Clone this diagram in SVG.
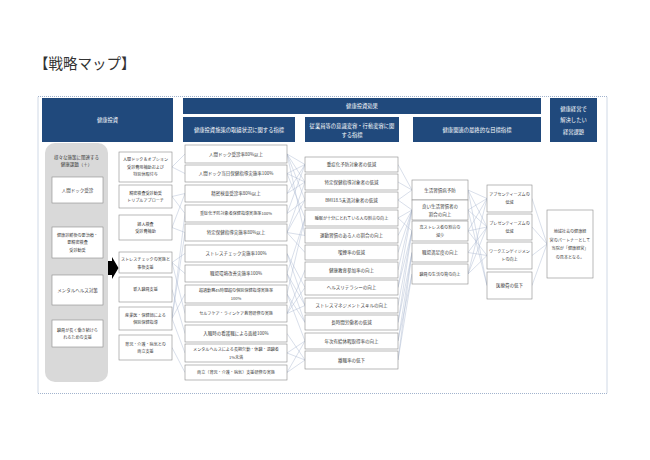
<svg xmlns="http://www.w3.org/2000/svg" width="650" height="460" viewBox="0 0 650 460">
<style>
text{font-family:"Noto Sans CJK JP","Noto Sans",sans-serif;}
.hd{fill:#20497c;}
.ht{fill:#ffffff;font-size:5.3px;text-anchor:middle;}
.bx{fill:#ffffff;stroke:#8a8a8a;stroke-width:0.6;}
.bt{fill:#404040;font-size:4.5px;text-anchor:middle;}
.sm{font-size:4.1px;}
.cn line{stroke:#a9b8cf;stroke-width:0.45;}
</style>
<rect width="650" height="460" fill="#ffffff"/>
<text x="34" y="69" font-size="14.5" fill="#333333">【戦略マップ】</text>
<rect x="38" y="96.5" width="569" height="297" fill="none" stroke="#8aa0c0" stroke-width="0.8" stroke-dasharray="1,1"/>

<g id="headers">
<rect class="hd" x="42" y="98" width="131" height="44"/>
<text class="ht" x="107.5" y="122">健康投資</text>
<rect class="hd" x="183" y="98" width="358" height="16"/>
<text class="ht" x="362" y="108">健康投資効果</text>
<rect class="hd" x="183" y="117" width="112" height="25"/>
<text class="ht" x="239" y="131.5">健康投資施策の取組状況に関する指標</text>
<rect class="hd" x="305" y="117" width="94" height="25"/>
<text class="ht" x="352" y="127.5">従業員等の意識変容・行動変容に関</text>
<text class="ht" x="352" y="136.5">する指標</text>
<rect class="hd" x="413" y="117" width="128" height="25"/>
<text class="ht" x="477" y="131.5">健康関連の最終的な目標指標</text>
<rect class="hd" x="550" y="98" width="47" height="44"/>
<text class="ht" x="573.5" y="110.5">健康経営で</text>
<text class="ht" x="573.5" y="122">解決したい</text>
<text class="ht" x="573.5" y="133.5">経営課題</text>
</g>

<g id="health-issues">
<rect x="45" y="143" width="63" height="239" rx="10" fill="#d9d9d9"/>
<text class="bt" x="76.5" y="159">様々な施策に関連する</text>
<text class="bt" x="76.5" y="166">健康課題（＋）</text>
<rect class="bx" x="52" y="177" width="51" height="26"/>
<text class="bt" x="77.5" y="191.5">人間ドック受診</text>
<rect class="bx" x="52" y="227" width="51" height="31"/>
<text class="bt sm" x="77.5" y="236.5">健康診断後の要治療・</text>
<text class="bt sm" x="77.5" y="244">要精密検査</text>
<text class="bt sm" x="77.5" y="251.5">受診勧奨</text>
<rect class="bx" x="52" y="275" width="51" height="30"/>
<text class="bt" x="77.5" y="291.5">メンタルヘルス対策</text>
<rect class="bx" x="52" y="320" width="51" height="27"/>
<text class="bt sm" x="77.5" y="331.5">職員が長く働き続けら</text>
<text class="bt sm" x="77.5" y="339">れるための支援</text>
<polygon points="108,261 112,261 112,257 118.5,268 112,279 112,275 108,275" fill="#000000"/>
</g>

<g class="cn" id="connectors">
<line x1="172" y1="167" x2="185" y2="154"/>
<line x1="172" y1="167" x2="185" y2="173.5"/>
<line x1="172" y1="196.5" x2="185" y2="193.5"/>
<line x1="172" y1="196.5" x2="185" y2="213.5"/>
<line x1="172" y1="227.5" x2="185" y2="193.5"/>
<line x1="172" y1="227.5" x2="185" y2="232.5"/>
<line x1="172" y1="262.5" x2="185" y2="253.5"/>
<line x1="172" y1="262.5" x2="185" y2="273.5"/>
<line x1="172" y1="262.5" x2="185" y2="313.5"/>
<line x1="172" y1="289.5" x2="185" y2="333.5"/>
<line x1="172" y1="318.5" x2="185" y2="213.5"/>
<line x1="172" y1="318.5" x2="185" y2="232.5"/>
<line x1="172" y1="318.5" x2="185" y2="294"/>
<line x1="172" y1="318.5" x2="185" y2="353"/>
<line x1="172" y1="347.5" x2="185" y2="372.5"/>
<line x1="287" y1="154" x2="305" y2="164.5"/>
<line x1="287" y1="154" x2="305" y2="182"/>
<line x1="287" y1="154" x2="305" y2="200"/>
<line x1="287" y1="154" x2="305" y2="235.5"/>
<line x1="287" y1="173.5" x2="305" y2="164.5"/>
<line x1="287" y1="173.5" x2="305" y2="182"/>
<line x1="287" y1="173.5" x2="305" y2="218"/>
<line x1="287" y1="193.5" x2="305" y2="164.5"/>
<line x1="287" y1="193.5" x2="305" y2="182"/>
<line x1="287" y1="213.5" x2="305" y2="164.5"/>
<line x1="287" y1="213.5" x2="305" y2="200"/>
<line x1="287" y1="232.5" x2="305" y2="182"/>
<line x1="287" y1="232.5" x2="305" y2="200"/>
<line x1="287" y1="232.5" x2="305" y2="235.5"/>
<line x1="287" y1="232.5" x2="305" y2="252.5"/>
<line x1="287" y1="253.5" x2="305" y2="287.5"/>
<line x1="287" y1="253.5" x2="305" y2="305.5"/>
<line x1="287" y1="273.5" x2="305" y2="218"/>
<line x1="287" y1="273.5" x2="305" y2="305.5"/>
<line x1="287" y1="273.5" x2="305" y2="322.5"/>
<line x1="287" y1="294" x2="305" y2="218"/>
<line x1="287" y1="294" x2="305" y2="322.5"/>
<line x1="287" y1="294" x2="305" y2="341"/>
<line x1="287" y1="313.5" x2="305" y2="270"/>
<line x1="287" y1="313.5" x2="305" y2="287.5"/>
<line x1="287" y1="313.5" x2="305" y2="305.5"/>
<line x1="287" y1="333.5" x2="305" y2="360"/>
<line x1="287" y1="353" x2="305" y2="341"/>
<line x1="287" y1="353" x2="305" y2="360"/>
<line x1="287" y1="372.5" x2="305" y2="341"/>
<line x1="287" y1="372.5" x2="305" y2="360"/>
<line x1="398" y1="164.5" x2="412" y2="190"/>
<line x1="398" y1="182" x2="412" y2="190"/>
<line x1="398" y1="200" x2="412" y2="190"/>
<line x1="398" y1="200" x2="412" y2="210"/>
<line x1="398" y1="218" x2="412" y2="210"/>
<line x1="398" y1="218" x2="412" y2="231"/>
<line x1="398" y1="235.5" x2="412" y2="210"/>
<line x1="398" y1="252.5" x2="412" y2="210"/>
<line x1="398" y1="270" x2="412" y2="210"/>
<line x1="398" y1="287.5" x2="412" y2="210"/>
<line x1="398" y1="287.5" x2="412" y2="231"/>
<line x1="398" y1="305.5" x2="412" y2="231"/>
<line x1="398" y1="322.5" x2="412" y2="231"/>
<line x1="398" y1="322.5" x2="412" y2="252.5"/>
<line x1="398" y1="341" x2="412" y2="252.5"/>
<line x1="398" y1="341" x2="412" y2="274"/>
<line x1="398" y1="360" x2="412" y2="252.5"/>
<line x1="398" y1="360" x2="412" y2="274"/>
<line x1="468" y1="190" x2="487" y2="198.5"/>
<line x1="468" y1="190" x2="487" y2="227"/>
<line x1="468" y1="190" x2="487" y2="285.5"/>
<line x1="468" y1="210" x2="487" y2="198.5"/>
<line x1="468" y1="210" x2="487" y2="227"/>
<line x1="468" y1="210" x2="487" y2="285.5"/>
<line x1="468" y1="231" x2="487" y2="198.5"/>
<line x1="468" y1="231" x2="487" y2="227"/>
<line x1="468" y1="231" x2="487" y2="255.5"/>
<line x1="468" y1="252.5" x2="487" y2="227"/>
<line x1="468" y1="252.5" x2="487" y2="255.5"/>
<line x1="468" y1="274" x2="487" y2="198.5"/>
<line x1="468" y1="274" x2="487" y2="227"/>
<line x1="468" y1="274" x2="487" y2="255.5"/>
<line x1="532" y1="198.5" x2="547" y2="244"/>
<line x1="532" y1="227" x2="547" y2="244"/>
<line x1="532" y1="255.5" x2="547" y2="244"/>
<line x1="532" y1="285.5" x2="547" y2="244"/>
</g>

<g id="measures">
<rect class="bx" x="119" y="152" width="53" height="30"/>
<text class="bt sm" x="145.5" y="161">人間ドック＆オプション</text>
<text class="bt sm" x="145.5" y="168.5">受診費用補助および</text>
<text class="bt sm" x="145.5" y="176">特別休暇付与</text>
<rect class="bx" x="119" y="185" width="53" height="23"/>
<text class="bt sm" x="145.5" y="194.5">精密検査受診勧奨</text>
<text class="bt sm" x="145.5" y="202">トリプルアプローチ</text>
<rect class="bx" x="119" y="215" width="53" height="25"/>
<text class="bt sm" x="145.5" y="225.5">婦人検査</text>
<text class="bt sm" x="145.5" y="233">受診費補助</text>
<rect class="bx" x="119" y="252" width="53" height="21"/>
<text class="bt sm" x="145.5" y="261">ストレスチェックの実施と</text>
<text class="bt sm" x="145.5" y="268.5">事後支援</text>
<rect class="bx" x="119" y="277" width="53" height="25"/>
<text class="bt sm" x="145.5" y="291">新入職員支援</text>
<rect class="bx" x="119" y="307" width="53" height="23"/>
<text class="bt sm" x="145.5" y="316.5">産業医・保健師による</text>
<text class="bt sm" x="145.5" y="324">個別保健指導</text>
<rect class="bx" x="119" y="335" width="53" height="25"/>
<text class="bt sm" x="145.5" y="345.5">育児・介護・病気との</text>
<text class="bt sm" x="145.5" y="353">両立支援</text>
</g>

<g id="indicators">
<rect class="bx" x="185" y="145" width="102" height="18"/>
<text class="bt" x="236" y="155.5">人間ドック受診率80%以上</text>
<rect class="bx" x="185" y="165" width="102" height="17"/>
<text class="bt" x="236" y="175">人間ドック当日保健指導実施率100%</text>
<rect class="bx" x="185" y="185" width="102" height="17"/>
<text class="bt" x="236" y="195">精密検査受診率80%以上</text>
<rect class="bx" x="185" y="205" width="102" height="17"/>
<text class="bt sm" x="236" y="215">重症化予防対象者保健指導実施率100%</text>
<rect class="bx" x="185" y="224" width="102" height="17"/>
<text class="bt" x="236" y="234">特定保健指導実施率80%以上</text>
<rect class="bx" x="185" y="245" width="102" height="17"/>
<text class="bt" x="236" y="255">ストレスチェック実施率100%</text>
<rect class="bx" x="185" y="265" width="102" height="17"/>
<text class="bt" x="236" y="275">職場環境改善実施率100%</text>
<rect class="bx" x="185" y="285" width="102" height="18"/>
<text class="bt sm" x="236" y="292">超過勤務45時間超の個別保健指導実施率</text>
<text class="bt sm" x="236" y="299.5">100%</text>
<rect class="bx" x="185" y="305" width="102" height="17"/>
<text class="bt sm" x="236" y="315">セルフケア・ラインケア教育研修の実施</text>
<rect class="bx" x="185" y="325" width="102" height="17"/>
<text class="bt" x="236" y="335">入職時の看護職による面接100%</text>
<rect class="bx" x="185" y="344" width="102" height="18"/>
<text class="bt sm" x="236" y="351">メンタルヘルスによる長期欠勤・休職・退職者</text>
<text class="bt sm" x="236" y="358.5">1%未満</text>
<rect class="bx" x="185" y="365" width="102" height="15"/>
<text class="bt sm" x="236" y="374">両立（育児・介護・病気）支援研修の実施</text>
</g>

<g id="behaviour">
<rect class="bx" x="305" y="157" width="93" height="15"/>
<text class="bt" x="351.5" y="166">重症化予防対象者の低減</text>
<rect class="bx" x="305" y="174" width="93" height="16"/>
<text class="bt" x="351.5" y="183.5">特定保健指導対象者の低減</text>
<rect class="bx" x="305" y="192" width="93" height="16"/>
<text class="bt" x="351.5" y="201.5">BMI18.5未満対象者の低減</text>
<rect class="bx" x="305" y="210" width="93" height="16"/>
<text class="bt sm" x="351.5" y="219.5">睡眠が十分にとれている人の割合の向上</text>
<rect class="bx" x="305" y="228" width="93" height="15"/>
<text class="bt" x="351.5" y="237">運動習慣のある人の割合の向上</text>
<rect class="bx" x="305" y="245" width="93" height="15"/>
<text class="bt" x="351.5" y="254">喫煙率の低減</text>
<rect class="bx" x="305" y="262" width="93" height="16"/>
<text class="bt" x="351.5" y="271.5">健康教育参加率の向上</text>
<rect class="bx" x="305" y="280" width="93" height="15"/>
<text class="bt" x="351.5" y="289">ヘルスリテラシーの向上</text>
<rect class="bx" x="305" y="298" width="93" height="15"/>
<text class="bt" x="351.5" y="307">ストレスマネジメントスキルの向上</text>
<rect class="bx" x="305" y="315" width="93" height="15"/>
<text class="bt" x="351.5" y="324">長時間労働者の低減</text>
<rect class="bx" x="305" y="333" width="93" height="16"/>
<text class="bt" x="351.5" y="342.5">年次有給休暇取得率の向上</text>
<rect class="bx" x="305" y="351" width="93" height="18"/>
<text class="bt" x="351.5" y="361.5">離職率の低下</text>
</g>

<g id="goals">
<rect class="bx" x="412" y="180" width="56" height="20"/>
<text class="bt" x="440" y="191.5">生活習慣病予防</text>
<rect class="bx" x="412" y="200" width="56" height="20"/>
<text class="bt" x="440" y="208">良い生活習慣者の</text>
<text class="bt" x="440" y="215.5">割合の向上</text>
<rect class="bx" x="412" y="221" width="56" height="20"/>
<text class="bt sm" x="440" y="229">高ストレス者の割合の</text>
<text class="bt sm" x="440" y="236.5">減少</text>
<rect class="bx" x="412" y="243" width="56" height="19"/>
<text class="bt" x="440" y="254">職場満足度の向上</text>
<rect class="bx" x="412" y="264" width="56" height="20"/>
<text class="bt sm" x="440" y="275.5">職員の生活の質の向上</text>
</g>

<g id="outcomes">
<rect class="bx" x="487" y="185" width="45" height="27"/>
<text class="bt sm" x="509.5" y="196">アブセンティーズムの</text>
<text class="bt sm" x="509.5" y="204">低減</text>
<rect class="bx" x="487" y="214" width="45" height="26"/>
<text class="bt sm" x="509.5" y="224.5">プレゼンティーズムの</text>
<text class="bt sm" x="509.5" y="232.5">低減</text>
<rect class="bx" x="487" y="242" width="45" height="27"/>
<text class="bt sm" x="509.5" y="253">ワークエンゲイジメン</text>
<text class="bt sm" x="509.5" y="261">トの向上</text>
<rect class="bx" x="487" y="272" width="45" height="27"/>
<text class="bt" x="509.5" y="287">医療費の低下</text>
</g>

<g id="management-issue">
<rect class="bx" x="547" y="210" width="46" height="68"/>
<text class="bt sm" x="570" y="233">地域社会の健康経</text>
<text class="bt sm" x="570" y="241.5">営のパートナーとして</text>
<text class="bt sm" x="570" y="250">当院が「健康経営」</text>
<text class="bt sm" x="570" y="258.5">の見本となる。</text>
</g>
</svg>
